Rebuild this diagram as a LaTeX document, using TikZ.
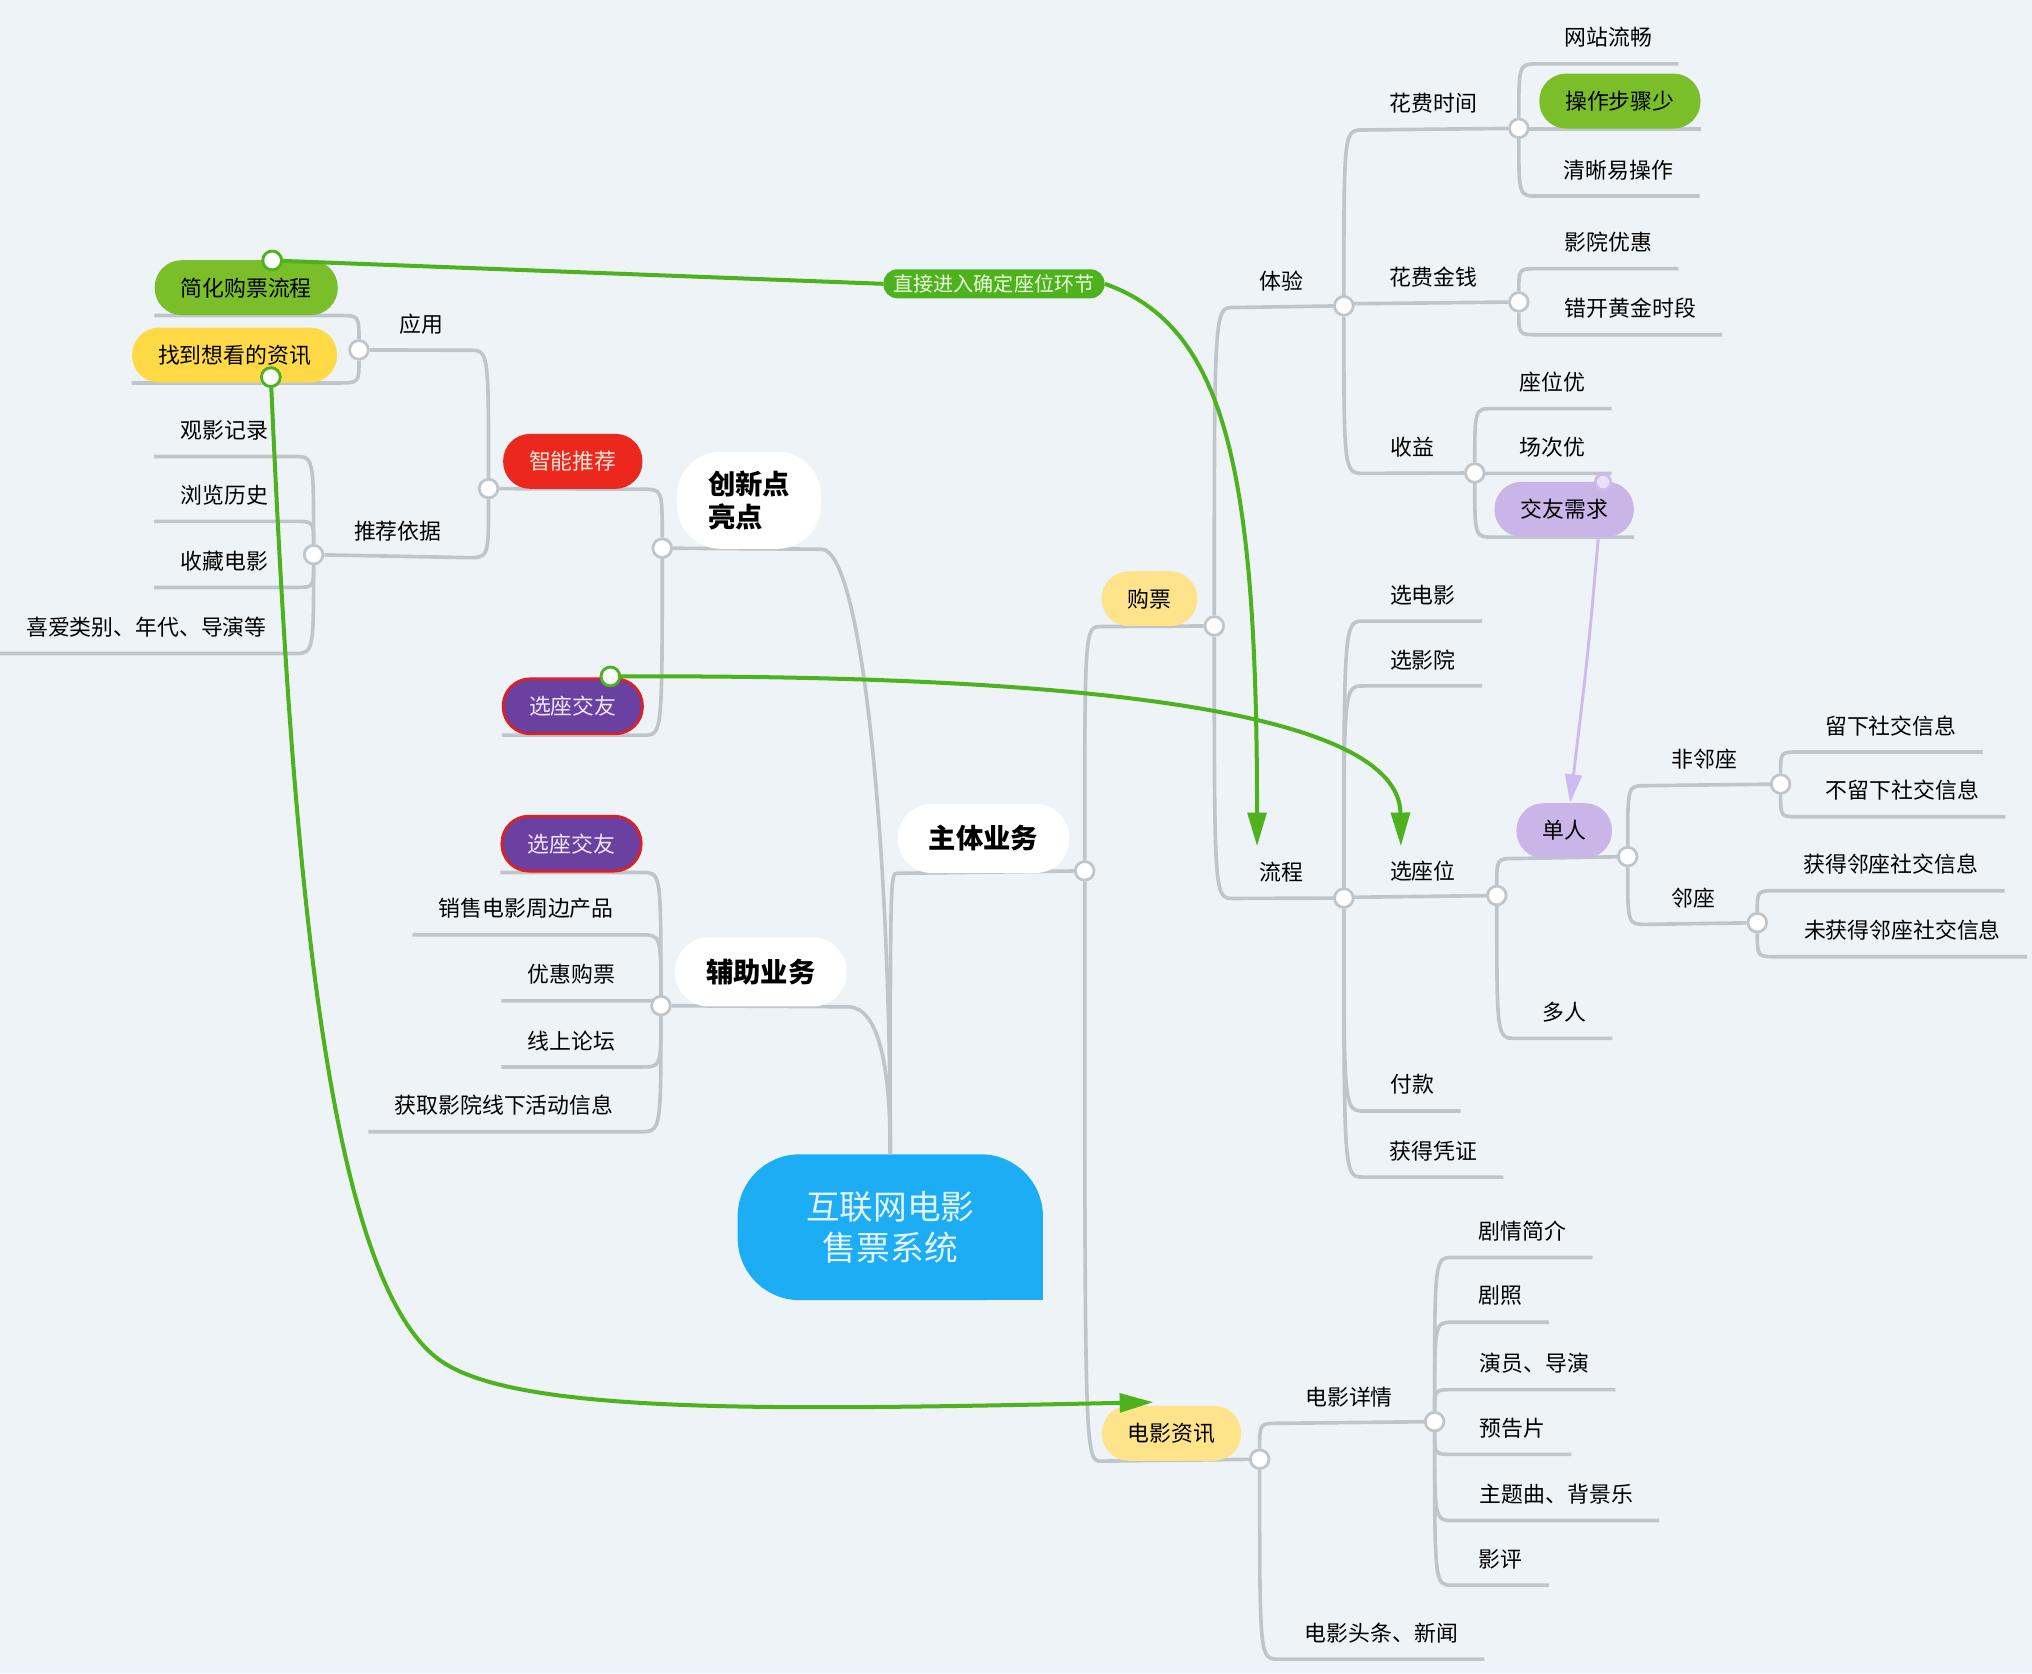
\documentclass[tikz,border=0pt]{standalone}
\usepackage{fontspec}
\setmainfont{Noto Sans CJK SC}
\usetikzlibrary{arrows.meta}
\definecolor{bgcol}{RGB}{238,243,247}
\definecolor{linegray}{RGB}{190,198,204}
\definecolor{rootblue}{RGB}{28,173,245}
\definecolor{rootfont}{RGB}{228,245,255}
\definecolor{leafgreen}{RGB}{122,190,42}
\definecolor{leafyellow}{RGB}{255,217,70}
\definecolor{paleyellow}{RGB}{253,227,138}
\definecolor{recred}{RGB}{236,40,30}
\definecolor{redfont}{RGB}{255,228,214}
\definecolor{seatpurple}{RGB}{106,64,160}
\definecolor{seatborder}{RGB}{222,32,32}
\definecolor{seatfont}{RGB}{240,230,255}
\definecolor{lilac}{RGB}{201,181,232}
\definecolor{relgreen}{RGB}{78,178,30}
\definecolor{jumpfont}{RGB}{235,255,220}
\definecolor{rellilac}{RGB}{205,186,240}
\pgfdeclarelayer{bg}
\pgfdeclarelayer{lines}
\pgfsetlayers{bg,lines,main}

\begin{document}
\begin{tikzpicture}[x=0.025cm,y=-0.025cm,
  leaf/.style={font=\fontsize{12}{14}\selectfont,inner xsep=0.5cm,inner ysep=0pt,minimum height=1cm},
  pill/.style={leaf,rounded corners=0.52cm,minimum height=1.06cm},
  seatpill/.style={pill,fill=seatpurple,draw=seatborder,line width=1.5pt,text=seatfont},
  topic/.style={fill=white,font=\fontsize{15}{18}\selectfont\bfseries,rounded corners=0.65cm,
    inner xsep=0.6cm,inner ysep=0pt,minimum height=1.33cm},
  rootnode/.style={font=\fontsize{18.5}{23}\selectfont,text=rootfont,align=center,
    minimum width=5.875cm,minimum height=2.8cm},
  jumplabel/.style={fill=relgreen,text=jumpfont,font=\fontsize{11}{13}\selectfont,
    rounded corners=0.27cm,inner xsep=0.2cm,inner ysep=0pt,minimum height=0.56cm},
  dot/.style={circle,fill=white,draw=linegray,line width=1.5pt,minimum size=0.36cm,inner sep=0pt},
  reldot/.style={dot,draw=relgreen},
  lilacdot/.style={dot,draw=rellilac,fill=white!60!lilac,minimum size=0.3cm},
  branch/.style={draw=linegray,line width=2pt},
  curvy/.style={to path={.. controls (\tikztostart |- \tikztotarget) .. (\tikztotarget) \tikztonodes}},
  rel/.style={draw=relgreen,line width=2.2pt},
  reltip/.style={rel,-{Triangle[length=0.65cm,width=0.36cm]}},
  relp/.style={draw=rellilac,line width=1.6pt,-{Triangle[length=0.55cm,width=0.32cm]}}]
  \useasboundingbox (0,0) rectangle (1568,1291);

  \node[rootnode] (root) at (687,947) {互联网电影\\售票系统};
  \node[topic,align=left,minimum width=2.75cm,minimum height=1.875cm,rounded corners=0.85cm] (inno) at (578,386) {创新点\\亮点};
  \node[topic] (main) at (759,647) {主体业务};
  \node[topic] (aux) at (587,750) {辅助业务};

  \node[pill,fill=leafgreen] (simp) at (190,222) {简化购票流程};
  \node[pill,fill=leafyellow] (find) at (181,274) {找到想看的资讯};
  \node[leaf] (app) at (325,250) {应用};
  \node[leaf] (basis) at (307,410) {推荐依据};
  \node[leaf] (rec1) at (173,332) {观影记录};
  \node[leaf] (rec2) at (173,382) {浏览历史};
  \node[leaf] (rec3) at (173,433) {收藏电影};
  \node[leaf] (rec4) at (113,484) {喜爱类别、年代、导演等};
  \node[pill,fill=recred,text=redfont] (smart) at (442,356) {智能推荐};
  \node[seatpill] (friendA) at (442,545) {选座交友};
  \node[seatpill] (friendB) at (441,651) {选座交友};
  \node[leaf] (aux1) at (406,701) {销售电影周边产品};
  \node[leaf] (aux2) at (441,752) {优惠购票};
  \node[leaf] (aux3) at (441,803) {线上论坛};
  \node[leaf] (aux4) at (389,853) {获取影院线下活动信息};

  \node[pill,fill=paleyellow] (buy) at (887,462) {购票};
  \node[pill,fill=paleyellow] (info) at (904,1106) {电影资讯};
  \node[leaf] (exp) at (989,217) {体验};
  \node[leaf] (flow) at (989,673) {流程};
  \node[leaf] (time) at (1106,80) {花费时间};
  \node[leaf] (money) at (1106,214) {花费金钱};
  \node[leaf] (gain) at (1090,345) {收益};
  \node[leaf] (t1) at (1241,29) {网站流畅};
  \node[pill,fill=leafgreen] (t2) at (1250,78) {操作步骤少};
  \node[leaf] (t3) at (1249,131) {清晰易操作};
  \node[leaf] (m1) at (1241,187) {影院优惠};
  \node[leaf] (m2) at (1258,238) {错开黄金时段};
  \node[leaf] (g1) at (1198,295) {座位优};
  \node[leaf] (g2) at (1198,345) {场次优};
  \node[pill,fill=lilac] (g3) at (1207,393) {交友需求};
  \node[leaf] (f1) at (1098,459) {选电影};
  \node[leaf] (f2) at (1098,509) {选影院};
  \node[leaf] (seat) at (1098,672) {选座位};
  \node[leaf] (f4) at (1090,837) {付款};
  \node[leaf] (f5) at (1106,888) {获得凭证};
  \node[pill,fill=lilac] (single) at (1207,641) {单人};
  \node[leaf] (multi) at (1207,781) {多人};
  \node[leaf] (nonadj) at (1315,586) {非邻座};
  \node[leaf] (adj) at (1307,693) {邻座};
  \node[leaf] (s1) at (1459,560) {留下社交信息};
  \node[leaf] (s2) at (1468,610) {不留下社交信息};
  \node[leaf] (s3) at (1459,667) {获得邻座社交信息};
  \node[leaf] (s4) at (1468,718) {未获得邻座社交信息};
  \node[leaf] (detail) at (1041,1078) {电影详情};
  \node[leaf] (news) at (1066,1260) {电影头条、新闻};
  \node[leaf] (d1) at (1175,950) {剧情简介};
  \node[leaf] (d2) at (1158,1000) {剧照};
  \node[leaf] (d3) at (1184,1052) {演员、导演};
  \node[leaf] (d4) at (1167,1102) {预告片};
  \node[leaf] (d5) at (1201,1153) {主题曲、背景乐};
  \node[leaf] (d6) at (1158,1203) {影评};

  \node[dot] (dInno) at (511,423) {};
  \node[dot] (dMain) at (837,672) {};
  \node[dot] (dAux) at (510,776) {};
  \node[dot] (dRec) at (377,377) {};
  \node[dot] (dApp) at (277,270) {};
  \node[dot] (dBasis) at (242,428) {};
  \node[dot] (dBuy) at (937,483) {};
  \node[dot] (dInfo) at (972,1126) {};
  \node[dot] (dExp) at (1037,236) {};
  \node[dot] (dFlow) at (1037,693) {};
  \node[dot] (dTime) at (1172,99) {};
  \node[dot] (dMoney) at (1172,233) {};
  \node[dot] (dGain) at (1138,365) {};
  \node[dot] (dSeat) at (1155,691) {};
  \node[dot] (dSingle) at (1256,661) {};
  \node[dot] (dNon) at (1374,605) {};
  \node[dot] (dAdj) at (1356,712) {};
  \node[dot] (dDetail) at (1107,1097) {};
  \node[lilacdot] (dWish) at (1237,372) {};

  \begin{pgfonlayer}{bg}
    \fill[bgcol] (0,0) rectangle (1568,1291);
    \fill[rootblue,rounded corners=1.2cm] (root.south west) rectangle (root.north east);
    \fill[rootblue] (root.center) rectangle (root.south east);
  \end{pgfonlayer}

  \begin{pgfonlayer}{lines}
    \draw[branch] (root.north) .. controls (687,650) and (665,424) .. (inno.south east) -- (dInno);
    \draw[branch] (root.north) to[curvy] (main.south west) -- (dMain);
    \draw[branch] (root.north) .. controls (687,830) and (680,776) .. (aux.south east) -- (dAux);
    \draw[branch] (dInno) to[curvy] (smart.south east) -- (dRec);
    \draw[branch] (dInno) to[curvy] (friendA.south east) -- (friendA.south west);
    \draw[branch] (dRec) to[curvy] (app.south east) -- (dApp);
    \draw[branch] (dRec) to[curvy] (basis.south east) -- (dBasis);
    \foreach \n in {simp,find}
      \draw[branch] (dApp) to[curvy] (\n.south east) -- (\n.south west);
    \foreach \n in {rec1,rec2,rec3,rec4}
      \draw[branch] (dBasis) to[curvy] (\n.south east) -- (\n.south west);
    \foreach \n in {friendB,aux1,aux2,aux3,aux4}
      \draw[branch] (dAux) to[curvy] (\n.south east) -- (\n.south west);
    \draw[branch] (dMain) to[curvy] (buy.south west) -- (dBuy);
    \draw[branch] (dMain) to[curvy] (info.south west) -- (dInfo);
    \draw[branch] (dBuy) to[curvy] (exp.south west) -- (dExp);
    \draw[branch] (dBuy) to[curvy] (flow.south west) -- (dFlow);
    \draw[branch] (dExp) to[curvy] (time.south west) -- (dTime);
    \draw[branch] (dExp) to[curvy] (money.south west) -- (dMoney);
    \draw[branch] (dExp) to[curvy] (gain.south west) -- (dGain);
    \foreach \n in {t1,t2,t3}
      \draw[branch] (dTime) to[curvy] (\n.south west) -- (\n.south east);
    \foreach \n in {m1,m2}
      \draw[branch] (dMoney) to[curvy] (\n.south west) -- (\n.south east);
    \foreach \n in {g1,g2,g3}
      \draw[branch] (dGain) to[curvy] (\n.south west) -- (\n.south east);
    \foreach \n in {f1,f2,f4,f5}
      \draw[branch] (dFlow) to[curvy] (\n.south west) -- (\n.south east);
    \draw[branch] (dFlow) to[curvy] (seat.south west) -- (dSeat);
    \draw[branch] (dSeat) to[curvy] (single.south west) -- (dSingle);
    \draw[branch] (dSeat) to[curvy] (multi.south west) -- (multi.south east);
    \draw[branch] (dSingle) to[curvy] (nonadj.south west) -- (dNon);
    \draw[branch] (dSingle) to[curvy] (adj.south west) -- (dAdj);
    \foreach \n in {s1,s2}
      \draw[branch] (dNon) to[curvy] (\n.south west) -- (\n.south east);
    \foreach \n in {s3,s4}
      \draw[branch] (dAdj) to[curvy] (\n.south west) -- (\n.south east);
    \draw[branch] (dInfo) to[curvy] (detail.south west) -- (dDetail);
    \draw[branch] (dInfo) to[curvy] (news.south west) -- (news.south east);
    \foreach \n in {d1,d2,d3,d4,d5,d6}
      \draw[branch] (dDetail) to[curvy] (\n.south west) -- (\n.south east);
    \draw[relp] (dWish) .. controls (1226,500) .. (single.78);
  \end{pgfonlayer}

  \node[jumplabel] (jump) at (767,219) {直接进入确定座位环节};
  \coordinate (flowTip) at (970,653);
  \coordinate (seatTip) at (1081,653);
  \coordinate (infoTip) at (890,1082);
  \node[reldot] (dSimp) at (210,201) {};
  \node[reldot] (dFind) at (209,291) {};
  \node[reldot] (dFriend) at (471,522) {};
  \draw[rel] (dSimp) -- (jump.west);
  \draw[reltip] (jump.east) .. controls (945,252) and (970,360) .. (flowTip);
  \draw[reltip] (dFriend) .. controls (950,520) and (1080,570) .. (seatTip);
  \draw[reltip] (dFind) .. controls (225,650) and (250,987) .. (340,1050)
    .. controls (400,1092) and (600,1088) .. (infoTip);
  \node[reldot] at (dSimp) {};
  \node[reldot] at (dFind) {};
  \node[reldot] at (dFriend) {};
\end{tikzpicture}
\end{document}
